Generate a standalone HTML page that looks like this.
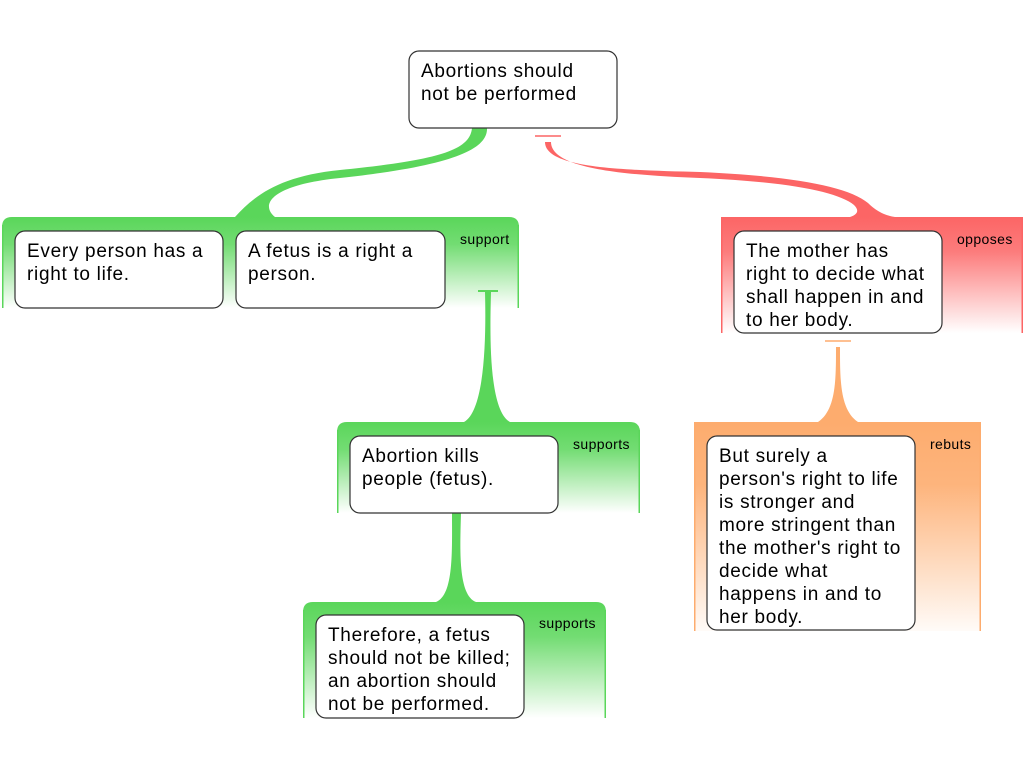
<!DOCTYPE html>
<html><head><meta charset="utf-8"><style>
html,body{margin:0;padding:0;background:#fff;}
svg{display:block;}
text{font-family:"Liberation Sans",Arial,sans-serif;fill:#000;}
.n{font-size:19px;letter-spacing:0.7px;}
.l{font-size:14px;letter-spacing:0.4px;}
.box{fill:#fff;stroke:#333;stroke-width:1.2;}
</style></head><body>
<svg width="1024" height="768" viewBox="0 0 1024 768" xmlns="http://www.w3.org/2000/svg">
<defs>
<linearGradient id="gg" x1="0" y1="0" x2="0" y2="1">
<stop offset="0" stop-color="#5ad65a"/><stop offset="0.3" stop-color="#5ad65a" stop-opacity="0.85"/><stop offset="1" stop-color="#5ad65a" stop-opacity="0"/></linearGradient>
<linearGradient id="rg" x1="0" y1="0" x2="0" y2="1">
<stop offset="0" stop-color="#fc6565"/><stop offset="0.3" stop-color="#fc6565" stop-opacity="0.85"/><stop offset="1" stop-color="#fc6565" stop-opacity="0"/></linearGradient>
<linearGradient id="og" x1="0" y1="0" x2="0" y2="1">
<stop offset="0" stop-color="#fdac6e"/><stop offset="0.3" stop-color="#fdac6e" stop-opacity="0.9"/><stop offset="1" stop-color="#fdac6e" stop-opacity="0.05"/></linearGradient>
</defs>

<!-- containers -->
<path d="M2,308 V227 Q2,217 12,217 H509 Q519,217 519,227 V308 Z" fill="url(#gg)"/>
<rect x="2" y="225" width="1.5" height="83" fill="#5ad65a"/><rect x="517.5" y="225" width="1.5" height="83" fill="#5ad65a"/>
<rect x="721" y="217" width="302" height="116" fill="url(#rg)"/>
<rect x="721" y="217" width="1.5" height="116" fill="#fc6565"/><rect x="1021.5" y="217" width="1.5" height="116" fill="#fc6565"/>
<path d="M337,513 V432 Q337,422 347,422 H630 Q640,422 640,432 V513 Z" fill="url(#gg)"/>
<rect x="337" y="430" width="1.5" height="83" fill="#5ad65a"/><rect x="638.5" y="430" width="1.5" height="83" fill="#5ad65a"/>
<rect x="694" y="422" width="287" height="209" fill="url(#og)"/>
<rect x="694" y="422" width="1.5" height="209" fill="#fdac6e"/><rect x="979.5" y="422" width="1.5" height="209" fill="#fdac6e"/>
<path d="M303,718 V612 Q303,602 313,602 H596 Q606,602 606,612 V718 Z" fill="url(#gg)"/>
<rect x="303" y="610" width="1.5" height="108" fill="#5ad65a"/><rect x="604.5" y="610" width="1.5" height="108" fill="#5ad65a"/>

<!-- connectors -->
<path d="M472,128 C470,150 440,160 340,170 C280,176 255,195 235,217 L275,217 C260,205 270,185 340,178 C450,166 488,150 487,128 Z" fill="#5ad65a"/>
<line x1="535" y1="136" x2="561" y2="136" stroke="#fc6565" stroke-width="1.5"/>
<path d="M545,142 C545,168 620,170 700,172 C790,176 848,186 868,203 Q880,215 895,217 L850,217 Q862,213 854,205 C838,192 790,182 700,178 C620,175 551,168 551,142 Z" fill="#fc6565"/>
<path d="M478,290 H498 V292 H491 C490,330 488,410 510,422 H464 C486,410 486,330 485,292 H478 Z" fill="#5ad65a"/>
<path d="M452,513 H461 C460,550 458,595 476,602 H436 C454,595 452,550 452,513 Z" fill="#5ad65a"/>
<line x1="825" y1="341" x2="851" y2="341" stroke="#fdac6e" stroke-width="1.5"/>
<path d="M836,347 H840 C840,380 840,410 858,422 H818 C836,410 836,380 836,347 Z" fill="#fdac6e"/>

<!-- nodes -->
<rect class="box" x="409" y="51" width="208" height="77" rx="10"/>
<text class="n" x="421" y="77">Abortions should</text>
<text class="n" x="421" y="100">not be performed</text>

<rect class="box" x="15" y="231" width="208" height="77" rx="10"/>
<text class="n" x="27" y="257">Every person has a</text>
<text class="n" x="27" y="280">right to life.</text>

<rect class="box" x="236" y="231" width="209" height="77" rx="10"/>
<text class="n" x="248" y="257">A fetus is a right a</text>
<text class="n" x="248" y="280">person.</text>
<text class="l" x="460" y="244">support</text>

<rect class="box" x="734" y="231" width="208" height="102" rx="10"/>
<text class="n" x="746" y="257">The mother has</text>
<text class="n" x="746" y="280">right to decide what</text>
<text class="n" x="746" y="303">shall happen in and</text>
<text class="n" x="746" y="326">to her body.</text>
<text class="l" x="957" y="244">opposes</text>

<rect class="box" x="350" y="436" width="208" height="77" rx="10"/>
<text class="n" x="362" y="462">Abortion kills</text>
<text class="n" x="362" y="485">people (fetus).</text>
<text class="l" x="573" y="449">supports</text>

<rect class="box" x="707" y="436" width="208" height="194" rx="10"/>
<text class="n" x="719" y="462">But surely a</text>
<text class="n" x="719" y="485">person's right to life</text>
<text class="n" x="719" y="508">is stronger and</text>
<text class="n" x="719" y="531">more stringent than</text>
<text class="n" x="719" y="554">the mother's right to</text>
<text class="n" x="719" y="577">decide what</text>
<text class="n" x="719" y="600">happens in and to</text>
<text class="n" x="719" y="623">her body.</text>
<text class="l" x="930" y="449">rebuts</text>

<rect class="box" x="316" y="615" width="208" height="103" rx="10"/>
<text class="n" x="328" y="641">Therefore, a fetus</text>
<text class="n" x="328" y="664">should not be killed;</text>
<text class="n" x="328" y="687">an abortion should</text>
<text class="n" x="328" y="710">not be performed.</text>
<text class="l" x="539" y="628">supports</text>
</svg>
</body></html>
